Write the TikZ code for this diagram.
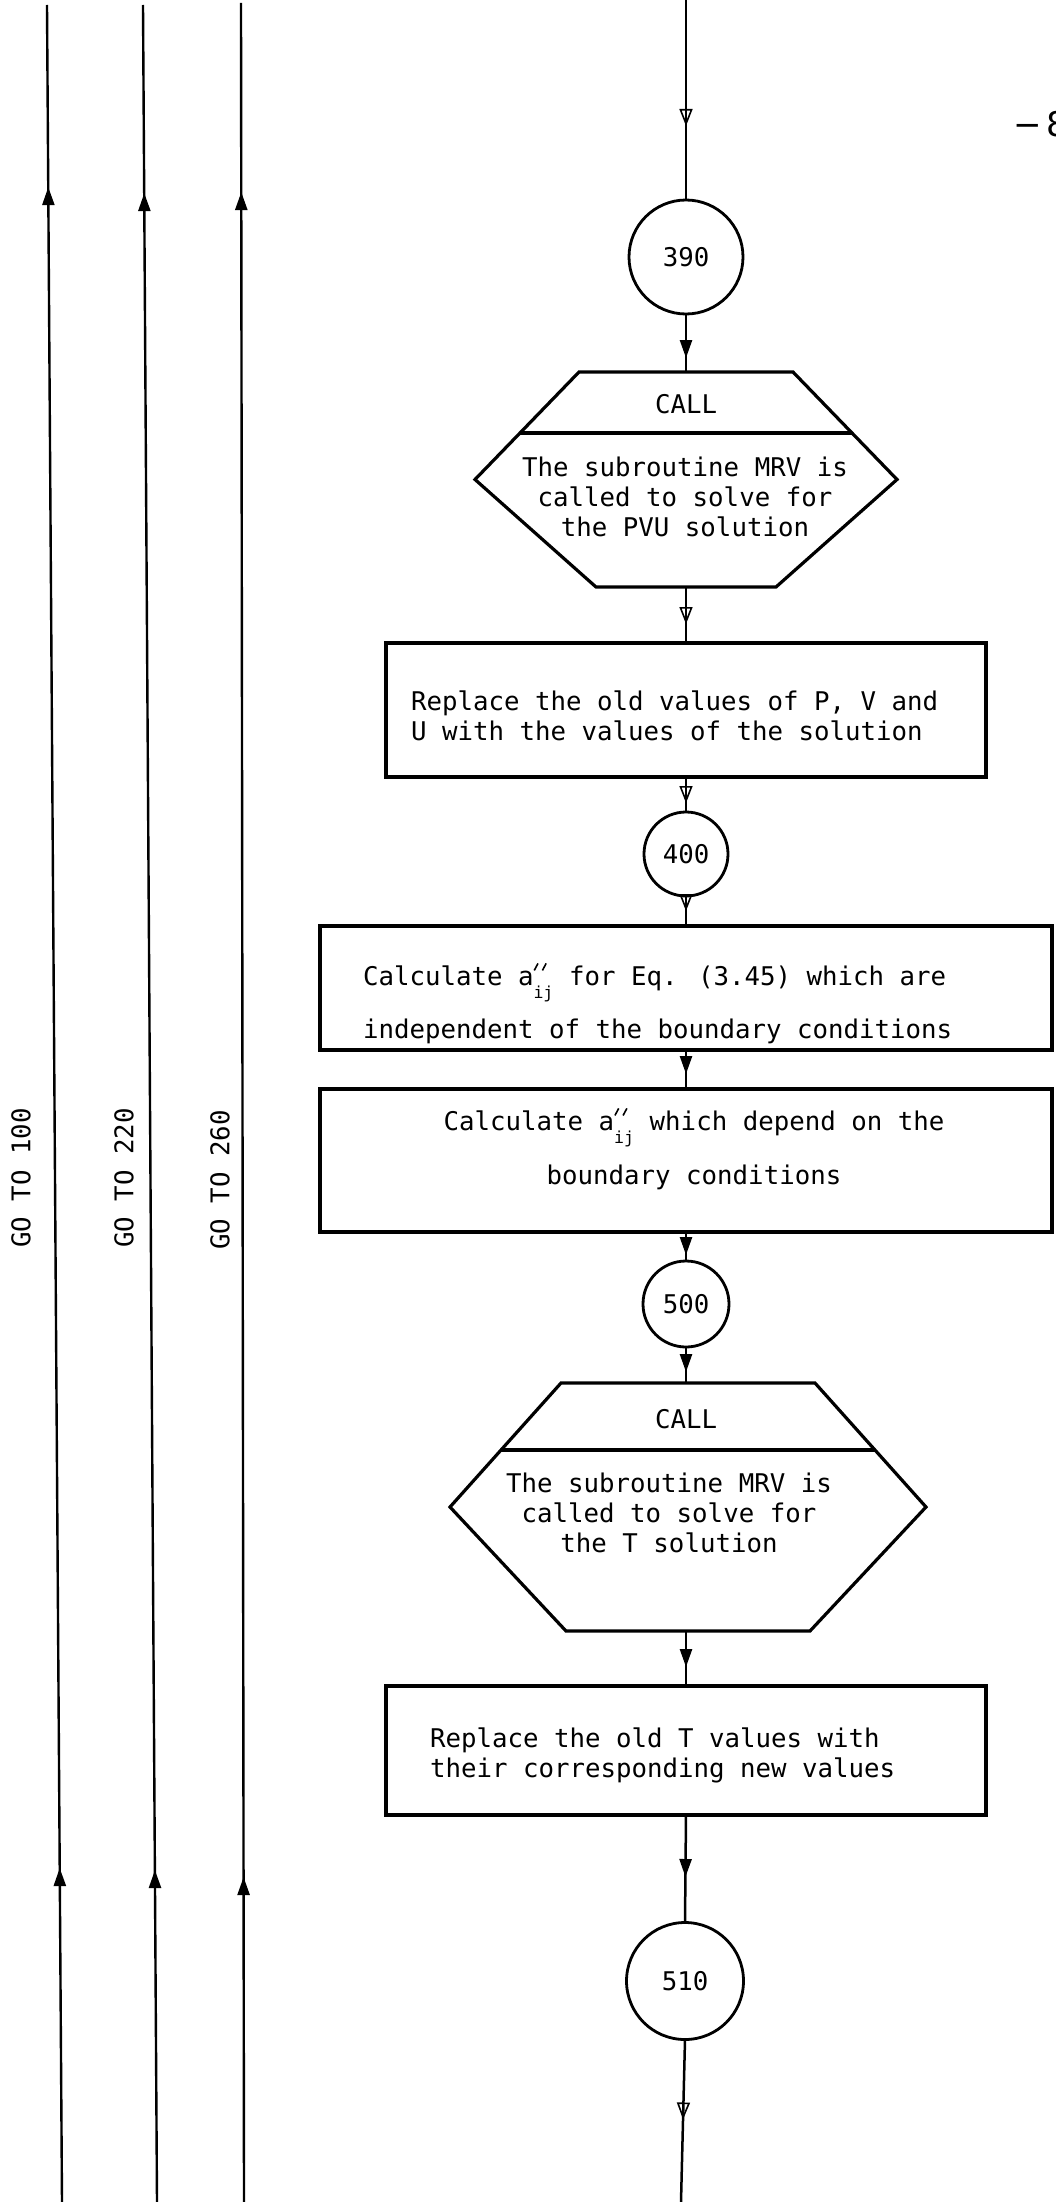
\documentclass[tikz,border=0pt]{standalone}
\usepackage{fontspec}
\usepackage{graphicx}
\newfontfamily\typerfont{DejaVu Sans Mono}
\newfontfamily\pagenofont{DejaVu Sans}
\usetikzlibrary{arrows.meta,decorations.markings,calc}

% fixed height of the first text line, so a node top sits a known distance above its first baseline
\newcommand\flowstrut{\rule{0pt}{22pt}}
% one short slanted stroke of the double prime
\newcommand\primemark{\rotatebox{62}{\rule{8pt}{1.6pt}}}
% coefficient a with the double prime above and the index ij below
\newcommand\aij{a\makebox[20pt][l]{\rlap{\raisebox{15pt}{\primemark\hspace{3pt}\primemark}}\raisebox{-13pt}{\fontsize{16.5pt}{16.5pt}\selectfont ij}}}

\begin{document}
\begin{tikzpicture}[x=1pt,y=-1pt,
  every node/.style={font=\typerfont\fontsize{25.75pt}{30pt}\selectfont, inner sep=0pt, outer sep=0pt},
  flowbox/.style={draw, rectangle, line width=3.2pt},
  ring/.style={draw, circle, line width=2.8pt},
  hexline/.style={line width=3.2pt, line join=miter},
  conn/.style={line width=2.5pt},
  longline/.style={line width=2.4pt},
  fhead/.style={postaction={decorate,decoration={markings,mark=at position #1 with {\arrow{Triangle[length=18pt,width=12pt]}}}}},
  ohead/.style={postaction={decorate,decoration={markings,mark=at position #1 with {\arrow[line width=1.6pt]{Triangle[open,length=17pt,width=13pt]}}}}},
]
\useasboundingbox (0,0) rectangle (1056,2202);
\fill[white] (0,0) rectangle (1056,2202);
\clip (0,0) rectangle (1056,2202);

% ---------- return lines on the left ----------
\coordinate (l1t) at (47,5);   \coordinate (l1b) at (62,2202);
\coordinate (l2t) at (143,5);  \coordinate (l2b) at (157,2202);
\coordinate (l3t) at (241,3);  \coordinate (l3b) at (244,2202);
\draw[longline, fhead=334pt, fhead=2015pt] (l1b) -- (l1t);
\draw[longline, fhead=332pt, fhead=2009pt] (l2b) -- (l2t);
\draw[longline, fhead=325pt, fhead=2010pt] (l3b) -- (l3t);
\node[rotate=90] (g100) at (21,1178) {GO TO 100};
\node[rotate=90] (g220) at (124,1178) {GO TO 220};
\node[rotate=90] (g260) at (220,1180) {GO TO 260};

% ---------- page number ----------
\node[font=\pagenofont\fontsize{34pt}{34pt}\selectfont, anchor=base west] (pageno) at (1013,137) {−\hspace{5pt}8};

% ---------- main flow ----------
\coordinate (topin) at (686,0);
\node[ring, minimum size=114pt] (c390) at (686,257) {390};

% first CALL block
\node[minimum width=422pt, minimum height=215pt] (h1) at (686,479.5) {};
\coordinate (h1tl) at ($(h1.north west)+(104,0)$);
\coordinate (h1tr) at ($(h1.north east)+(-104,0)$);
\coordinate (h1br) at ($(h1.south east)+(-121,0)$);
\coordinate (h1bl) at ($(h1.south west)+(121,0)$);
\draw[hexline] (h1tl) -- (h1tr) -- (h1.east) -- (h1br) -- (h1bl) -- (h1.west) -- cycle;
\draw[hexline] ($(h1tl)!0.567!(h1.west)$) -- ($(h1tr)!0.567!(h1.east)$);
\node[anchor=base] (h1call) at (686,413) {CALL};
\node[anchor=north, align=center] (h1body) at (685,454)
  {\flowstrut The subroutine MRV is\\called to solve for\\the PVU solution};

\node[flowbox, minimum width=600pt, minimum height=134pt] (r1) at (686,710) {};
\node[anchor=north west, align=left] (r1body) at (411,688)
  {\flowstrut Replace the old values of P, V and\\U with the values of the solution};

\node[ring, minimum size=84pt] (c400) at (686,854) {400};

\node[flowbox, minimum width=732pt, minimum height=124pt] (r2) at (686,988) {};
\node[anchor=north west, align=left] (r2body) at (363,963)
  {\flowstrut Calculate \aij{} for Eq. (3.45) which are\\[16pt]independent of the boundary conditions};

\node[flowbox, minimum width=732pt, minimum height=143pt] (r3) at (686,1160.5) {};
\node[anchor=north, align=center] (r3body) at (694,1108)
  {\flowstrut Calculate \aij{} which depend on the\\[17pt]boundary conditions};

\node[ring, minimum size=86pt] (c500) at (686,1304) {500};

% second CALL block
\node[minimum width=476pt, minimum height=248pt] (h2) at (688,1507) {};
\coordinate (h2tl) at ($(h2.north west)+(111,0)$);
\coordinate (h2tr) at ($(h2.north east)+(-111,0)$);
\coordinate (h2br) at ($(h2.south east)+(-116,0)$);
\coordinate (h2bl) at ($(h2.south west)+(116,0)$);
\draw[hexline] (h2tl) -- (h2tr) -- (h2.east) -- (h2br) -- (h2bl) -- (h2.west) -- cycle;
\draw[hexline] ($(h2tl)!0.54!(h2.west)$) -- ($(h2tr)!0.54!(h2.east)$);
\node[anchor=base] (h2call) at (686,1428) {CALL};
\node[anchor=north, align=center] (h2body) at (669,1470)
  {\flowstrut The subroutine MRV is\\called to solve for\\the T solution};

\node[flowbox, minimum width=600pt, minimum height=129pt] (r4) at (686,1750.5) {};
\node[anchor=north west, align=left] (r4body) at (430,1725)
  {\flowstrut Replace the old T values with\\their corresponding new values};

\node[ring, minimum size=117pt] (c510) at (685,1981) {510};
\coordinate (botout) at (681,2202);

% ---------- connectors ----------
\draw[conn, ohead=126pt] (topin) -- (c390.north);
\draw[conn, fhead=44pt] (c390.south) -- (c390.south |- h1.north);
\draw[conn, ohead=37pt] (h1.south) -- (h1.south |- r1.north);
\draw[conn, ohead=26pt] (r1.south) -- (c400.north);
\draw[conn, ohead=15pt] (c400.south) -- (r2.north);
\draw[conn, fhead=24pt] (r2.south) -- (r3.north);
\draw[conn, fhead=23pt] (r3.south) -- (c500.north);
\draw[conn, fhead=25pt] (c500.south) -- (c500.south |- h2.north);
\draw[conn, fhead=36pt] (r4.north |- h2.south) -- (r4.north);
\draw[conn, fhead=62pt] (r4.south) -- (c510.north);
\draw[conn, ohead=80pt] (c510.south) -- (botout);
\end{tikzpicture}
\end{document}
